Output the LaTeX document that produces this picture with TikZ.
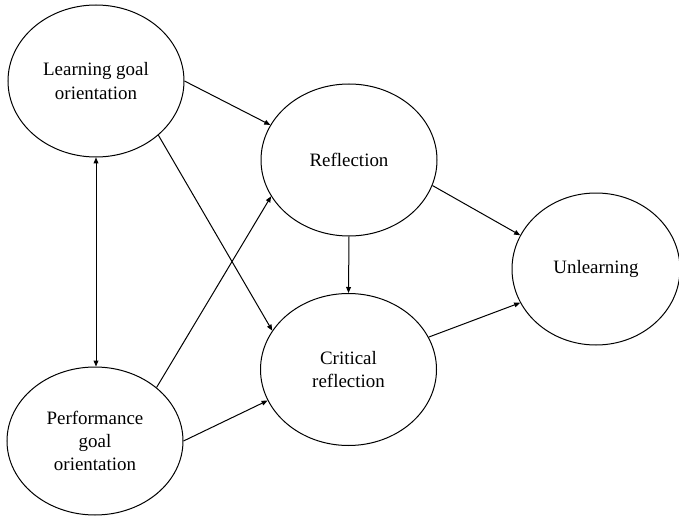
\documentclass[tikz,border=0pt]{standalone}
\usepackage{fontspec}
\setmainfont{Liberation Serif}
\usetikzlibrary{shapes.geometric,arrows.meta}

\tikzset{every picture/.style={line width=0.75pt}}
\tikzset{
	construct/.style={draw, ellipse, inner sep=0pt, minimum width=132pt, minimum height=114pt, align=center, font=\fontsize{14.2}{17.3}\selectfont},
	link/.style={-{Triangle[length=4.5pt,width=3.6pt]}},
	twoway/.style={{Triangle[length=4.5pt,width=3.6pt]}-{Triangle[length=4.5pt,width=3.6pt]}}
}

\begin{document}
\begin{tikzpicture}[x=0.75pt,y=0.75pt,yscale=-1,xscale=1]
		\useasboundingbox (0,0) rectangle (679,517);

		% Ellipse Nodes
		\node [construct] (lgo) at (96,81) {Learning goal\\orientation};
		\node [construct] (refl) at (349,160) {Reflection};
		\node [construct] (crit) at (348.5,369.5) {Critical\\reflection};
		\node [construct, minimum height=111pt] (pgo) at (95,441) {Performance\\goal\\orientation};
		\node [construct, minimum width=126pt] (unl) at (596,269) {Unlearning};

		%Straight Lines 
		\draw [twoway] (lgo.south) -- (lgo.south |- pgo.north) ;
		%Straight Lines 
		\draw [link] (lgo.east) -- (refl.156) ;
		%Straight Lines 
		\draw [link] (lgo.-41) -- (crit.153) ;
		%Straight Lines 
		\draw [link] (pgo.41) -- (refl.205) ;
		%Straight Lines 
		\draw [link] (pgo.east) -- (crit.201) ;
		%Straight Lines 
		\draw [link] (refl.south) -- (crit.north) ;
		%Straight Lines 
		\draw [link] (refl.-17) -- (unl.156) ;
		%Straight Lines 
		\draw [link] (crit.22) -- (unl.204) ;
\end{tikzpicture}
\end{document}
